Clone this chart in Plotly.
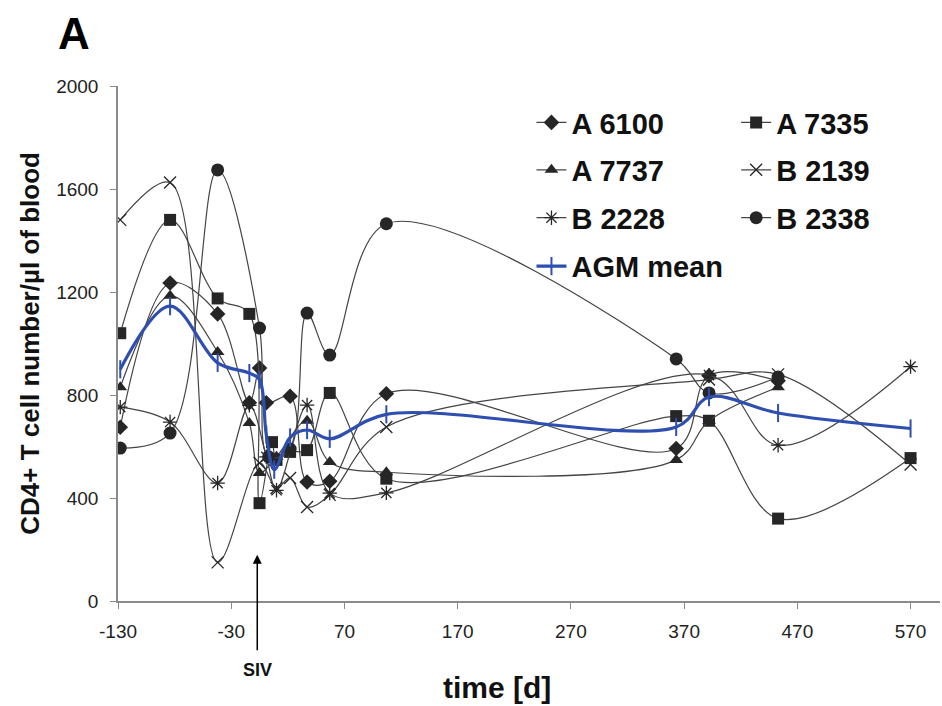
import plotly.graph_objects as go

# Sampling days (relative to SIV inoculation) and CD4+ counts per animal
days_a6100 = [-128, -84, -42, -14, -5, 1, 22, 37, 57, 107, 363, 392, 453]
cd4_a6100 = [675, 1235, 1115, 770, 905, 770, 795, 462, 465, 805, 592, 875, 855]

days_a7335 = [-128, -84, -42, -14, -5, 6, 10, 22, 37, 57, 107, 363, 392, 453, 570]
cd4_a7335 = [1040, 1480, 1175, 1115, 380, 617, 548, 579, 586, 808, 475, 718, 700, 320, 555]

days_a7737 = [-128, -84, -42, -14, -5, 10, 37, 57, 107, 363, 392, 453]
cd4_a7737 = [830, 1185, 967, 691, 497, 560, 700, 540, 500, 548, 700, 830]

days_b2139 = [-128, -84, -42, -5, 10, 22, 37, 57, 107, 392, 453, 570]
cd4_b2139 = [1480, 1625, 150, 536, 439, 478, 365, 412, 676, 860, 880, 530]

days_b2228 = [-128, -84, -42, -14, 1, 10, 37, 57, 107, 392, 453, 570]
cd4_b2228 = [753, 695, 458, 760, 560, 430, 761, 419, 420, 877, 605, 910]

days_b2338 = [-128, -84, -42, -5, 3, 22, 37, 57, 107, 363, 392, 453]
cd4_b2338 = [594, 652, 1674, 1060, 560, 590, 1118, 955, 1465, 940, 808, 870]

days_mean = [-128, -84, -42, -14, -5, 1, 8, 22, 37, 57, 107, 363, 392, 453, 570]
cd4_mean = [900, 1145, 925, 885, 860, 645, 510, 635, 664, 630, 725, 676, 792, 730, 670]

x_ticks = [-130, -30, 70, 170, 270, 370, 470, 570]
y_ticks = [0, 400, 800, 1200, 1600, 2000]

FONT = "Liberation Sans, Arial, sans-serif"
INK = "#262626"
LINE = "#444444"
BLUE = "#2f4fb0"

# legend id, column x (paper), row y (paper) for each entry
animals = [
    ("A 6100", days_a6100, cd4_a6100, "diamond", 12, ("legend", 0.503, 0.929)),
    ("A 7335", days_a7335, cd4_a7335, "square", 12, ("legend2", 0.752, 0.929)),
    ("A 7737", days_a7737, cd4_a7737, "triangle-up", 12, ("legend3", 0.503, 0.837)),
    ("B 2139", days_b2139, cd4_b2139, "x-thin-open", 12, ("legend4", 0.752, 0.837)),
    ("B 2228", days_b2228, cd4_b2228, "asterisk-open", 12, ("legend5", 0.503, 0.744)),
    ("B 2338", days_b2338, cd4_b2338, "circle", 13, ("legend6", 0.752, 0.744)),
]
mean_legend = ("legend7", 0.503, 0.650)

fig = go.Figure()

legend_style = dict(
    font=dict(family=FONT, size=29, color="#111111"),
    bgcolor="rgba(0,0,0,0)", yanchor="middle", xanchor="left",
    itemwidth=30,
)
legends = {}

for name, dx, dy, sym, size, (leg, lx, ly) in animals:
    open_sym = sym.endswith("-open")
    fig.add_trace(go.Scatter(
        x=dx, y=dy, name=f"<b>{name}</b>", mode="lines+markers",
        line=dict(color=LINE, width=1.2, shape="spline", smoothing=1.0),
        marker=dict(symbol=sym, size=size, color=INK,
                    line=dict(color=INK, width=1.3 if open_sym else 0)),
        legend=leg,
    ))
    legends[leg] = dict(x=lx, y=ly, **legend_style)

leg, lx, ly = mean_legend
fig.add_trace(go.Scatter(
    x=days_mean, y=cd4_mean, name="<b>AGM mean</b>", mode="lines+markers",
    line=dict(color=BLUE, width=3.2, shape="spline", smoothing=1.0),
    marker=dict(symbol="line-ns-open", size=13, color=BLUE,
                line=dict(color=BLUE, width=2)),
    legend=leg,
))
legends[leg] = dict(x=lx, y=ly, **legend_style)

fig.update_layout(
    width=942, height=706,
    margin=dict(l=118, r=2, t=86, b=105),
    paper_bgcolor="white", plot_bgcolor="white",
    font=dict(family=FONT, color="#222222"),
    showlegend=True,
    xaxis=dict(
        range=[-130, 596], tickvals=x_ticks, ticktext=[str(v) for v in x_ticks],
        showgrid=False, zeroline=False, showline=True, linecolor="#8a8a8a",
        linewidth=1.5, ticks="outside", ticklen=6, tickcolor="#8a8a8a",
        ticklabelstandoff=6,
        tickfont=dict(family=FONT, size=19, color="#222222"),
    ),
    yaxis=dict(
        range=[0, 2000], tickvals=y_ticks,
        showgrid=False, zeroline=False, showline=True, linecolor="#8a8a8a",
        linewidth=1.5, ticks="outside", ticklen=6, tickcolor="#8a8a8a",
        ticklabelstandoff=8,
        tickfont=dict(family=FONT, size=19, color="#222222"),
    ),
    **legends,
)

annotations = [
    # panel letter
    dict(text="<b>A</b>", xref="paper", yref="paper", x=-0.0535, y=1.101,
         xanchor="center", yanchor="middle", showarrow=False,
         font=dict(family=FONT, size=44, color="#000000")),
    # axis titles
    dict(text="<b>CD4+ T cell number/µl of blood</b>", xref="paper", yref="paper",
         x=-0.108, y=0.5, xanchor="center", yanchor="middle", textangle=-90,
         showarrow=False, font=dict(family=FONT, size=26, color="#111111")),
    dict(text="<b>time [d]</b>", xref="paper", yref="paper", x=0.461, y=-0.168,
         xanchor="center", yanchor="middle", showarrow=False,
         font=dict(family=FONT, size=30, color="#111111")),
    # SIV inoculation marker
    dict(text="", xref="x", yref="y", x=-7, y=180, ax=0, ay=97,
         showarrow=True, arrowhead=2, arrowsize=1.2, arrowwidth=1.5,
         arrowcolor="#000000"),
    dict(text="<b>SIV</b>", xref="x", yref="paper", x=-7, y=-0.134,
         xanchor="center", yanchor="middle", showarrow=False,
         font=dict(family=FONT, size=18, color="#111111")),
]
fig.update_layout(annotations=annotations)

fig.write_html("out.html")
